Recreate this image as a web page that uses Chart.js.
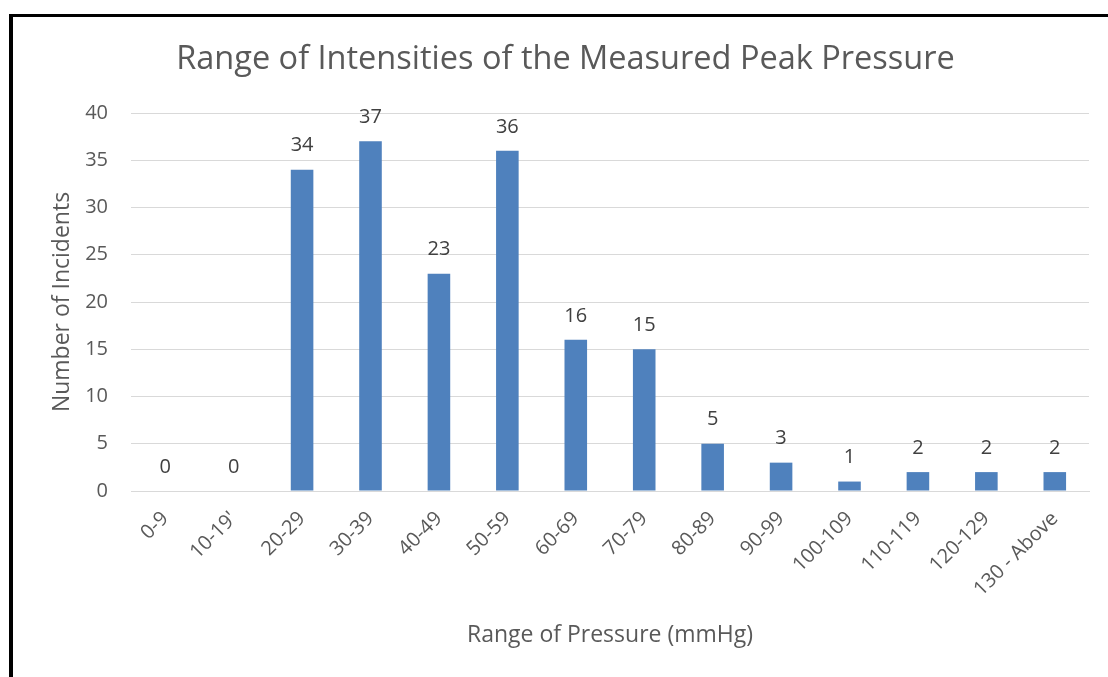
<!DOCTYPE html>
<html>
<head>
<meta charset="utf-8">
<script src="https://cdn.jsdelivr.net/npm/chart.js@4/dist/chart.umd.min.js"></script>
<style>
  html, body { margin: 0; padding: 0; background: #fff; }
  #wrap { position: relative; width: 1108px; height: 677px; overflow: hidden; }
  #frame { position: absolute; left: 9px; top: 14px; right: 0; bottom: 0;
           border-left: 4px solid #000; border-top: 3px solid #000; pointer-events: none; }
  canvas { position: absolute; left: 0; top: 0; }
</style>
</head>
<body>
<div id="wrap">
  <canvas id="BarChart" width="1108" height="677"></canvas>
  <div id="frame"></div>
</div>
<script>
// Dati del grafico
const categories = ['0-9', '10-19\'', '20-29', '30-39', '40-49', '50-59', '60-69', '70-79',
    '80-89', '90-99', '100-109', '110-119', '120-129', '130 - Above'];
const incidents = [0, 0, 34, 37, 23, 36, 16, 15, 5, 3, 1, 2, 2, 2];
const yTicks = [0, 5, 10, 15, 20, 25, 30, 35, 40];

const textColor = '#595959';
const fontName = '"Open Sans", sans-serif';

// Etichette dei valori sopra le barre
const valueLabels = {
    id: 'valueLabels',
    afterDatasetsDraw(chart) {
        const ctx = chart.ctx;
        const meta = chart.getDatasetMeta(0);
        ctx.save();
        ctx.font = '20px ' + fontName;
        ctx.fillStyle = '#404040';
        ctx.textAlign = 'center';
        ctx.textBaseline = 'middle';
        meta.data.forEach((bar, i) => {
            ctx.fillText(String(incidents[i]), bar.x, bar.y - 24);
        });
        ctx.restore();
    }
};

const barData = {
    labels: categories,
    datasets: [{
        label: 'Number of Incidents',
        data: incidents,
        backgroundColor: '#4F81BD',
        categoryPercentage: 1,
        barPercentage: 0.33
    }]
};

const barOptions = {
    responsive: false,
    animation: false,
    layout: { padding: { left: 42, right: 19, top: 0, bottom: 0 } },
    plugins: {
        legend: { display: false },
        tooltip: { enabled: false },
        title: {
            display: true,
            text: 'Range of Intensities of the Measured Peak Pressure',
            color: textColor,
            font: { family: fontName, size: 32.5, weight: 'normal', lineHeight: 1.2 },
            padding: { top: 40, bottom: 34 }
        }
    },
    scales: {
        x: {
            grid: { display: false },
            border: { display: true, color: '#D9D9D9', width: 1 },
            ticks: {
                color: textColor,
                font: { family: fontName, size: 20 },
                maxRotation: 45,
                minRotation: 45,
                padding: 8,
                autoSkip: false
            },
            title: {
                display: true,
                text: 'Range of Pressure (mmHg)',
                color: textColor,
                font: { family: fontName, size: 23 },
                padding: { top: 0, bottom: 28 }
            },
            afterFit(scale) { scale.height = 186; }
        },
        y: {
            min: 0,
            max: 40,
            afterBuildTicks(scale) { scale.ticks = yTicks.map(v => ({ value: v })); },
            grid: { color: '#D9D9D9', drawTicks: false },
            border: { display: false },
            ticks: {
                color: textColor,
                font: { family: fontName, size: 20 },
                padding: 23
            },
            title: {
                display: true,
                text: 'Number of Incidents',
                color: textColor,
                font: { family: fontName, size: 23 },
                padding: { top: 7, bottom: 0 }
            },
            afterFit(scale) { scale.width = 89; }
        }
    }
};

const barCtx = document.getElementById('BarChart').getContext('2d');
const barChart = new Chart(barCtx, {
    type: 'bar',
    data: barData,
    options: barOptions,
    plugins: [valueLabels]
});
</script>
</body>
</html>
